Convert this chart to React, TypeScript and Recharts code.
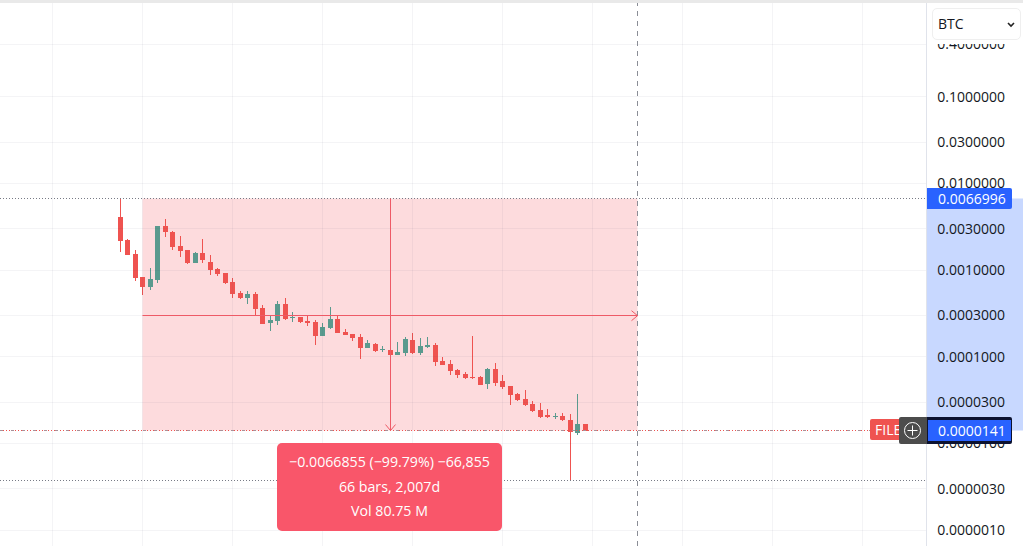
import React from "react";
import { ComposedChart, Bar, XAxis, YAxis, ReferenceArea, ReferenceLine, ReferenceDot } from "recharts";

const opens = [0.00413,0.002224,0.001545,0.000832,0.000643,0.000774,0.003252,0.00275,0.001911,0.001718,0.001217,0.001587,0.001249,0.001037,0.000932,0.000734,0.000548,0.00048,0.000534,0.000368,0.000247,0.000261,0.000409,0.000282,0.00029,0.000261,0.000254,0.000175,0.000217,0.000275,0.000195,0.000185,0.000171,0.000127,0.000141,0.00012,0.000121,0.000106,0.000111,0.000157,0.000111,0.00013,0.000138,0.0000901,0.0000832,0.0000709,0.0000637,0.0000589,0.0000589,0.0000489,0.0000725,0.0000529,0.0000463,0.0000375,0.0000328,0.0000287,0.0000245,0.0000211,0.00002,0.0000206,0.0000188,0.0000133,0.0000169];
const highs = [0.0066996,0.002283,0.001704,0.000832,0.001057,0.003252,0.003917,0.002824,0.002492,0.001718,0.001629,0.002302,0.001493,0.001066,0.000932,0.000816,0.000578,0.000578,0.000563,0.000398,0.000298,0.000443,0.00048,0.000331,0.00029,0.000306,0.000268,0.000247,0.000377,0.000298,0.000211,0.000185,0.000185,0.000157,0.000145,0.000134,0.000121,0.000149,0.000171,0.00019,0.000166,0.000171,0.000145,0.000099,0.0000925,0.0000725,0.0000672,0.000175,0.0000604,0.0000745,0.0000854,0.000062,0.0000463,0.0000385,0.0000417,0.0000311,0.0000295,0.0000252,0.0000227,0.0000227,0.0000216,0.0000375,0.0000169];
const lows = [0.001587,0.001505,0.00074,0.00052,0.000594,0.000715,0.002427,0.001718,0.001427,0.001185,0.001217,0.001217,0.000884,0.000861,0.000696,0.00048,0.000467,0.000409,0.000306,0.000241,0.0002,0.000235,0.000268,0.000254,0.000247,0.000229,0.000138,0.000175,0.000211,0.00019,0.00018,0.000153,0.000095,0.000127,0.000114,0.000114,0.000106,0.000106,0.000103,0.000109,0.000106,0.000127,0.0000789,0.000081,0.000062,0.0000573,0.0000558,0.0000558,0.0000476,0.0000428,0.0000463,0.0000428,0.000028,0.0000311,0.0000272,0.0000233,0.00002,0.00002,0.0000195,0.0000183,0.00000372,0.0000126,0.0000141];
const closes = [0.002182,0.001505,0.000816,0.000643,0.000795,0.003252,0.002771,0.001861,0.001673,0.001217,0.001587,0.001318,0.00101,0.000908,0.000715,0.000534,0.00048,0.000534,0.000358,0.000241,0.000268,0.000409,0.000275,0.00029,0.000254,0.000247,0.000175,0.000223,0.000275,0.00019,0.00018,0.000166,0.000127,0.000145,0.000118,0.000123,0.000106,0.000114,0.000162,0.000111,0.000134,0.000138,0.0000877,0.000081,0.000069,0.000062,0.0000573,0.0000573,0.0000476,0.0000725,0.0000502,0.0000451,0.0000365,0.0000319,0.000028,0.0000239,0.0000206,0.00002,0.0000206,0.0000183,0.0000136,0.0000169,0.0000141];

const priceTicks = [0.4,0.1,0.03,0.01,0.003,0.001,0.0003,0.0001,0.00003,0.00001,0.000003,0.000001];
const gridBars = [-9,3,15,27,39,51,63,75,87,99];
const measureHigh = 0.0066996;
const measureLow = 0.0000141;
const lowMarker = 0.00000372;
const measureStartBar = 3;
const measureEndBar = 69;
const measureMidBar = 36.067;
const measureMidPrice = 0.000298;
const axisEdgeBar = 107.533;
const domainX: [number, number] = [-16, 120.4];
const domainY: [number, number] = [6.57e-7, 1.304];

const RED = "#ef5350";
const GREEN = "#5a9a8e";
const FONT = "'Open Sans', sans-serif";

const table = opens.map((o, i) => ({
  i,
  up: closes[i] > o,
  wick: [lows[i], highs[i]],
  body: [Math.min(o, closes[i]), Math.max(o, closes[i])],
}));

const Wick = (p: any) => (
  <rect x={Math.floor(p.x + p.width / 2 + 0.26)} y={Math.round(p.y)} width={1} height={Math.max(1, Math.round(p.height))} fill={p.payload.up ? GREEN : RED} />
);
const Body = (p: any) => (
  <rect x={Math.floor(p.x + p.width / 2 + 0.26) - 2} y={Math.round(p.y)} width={5} height={Math.max(1, Math.round(p.height))} fill={p.payload.up ? GREEN : RED} />
);

const crisp = (stroke: string, dash?: string) => (p: any) => {
  const a = Math.floor(p.x1) + 0.5, b = Math.floor(p.x2) + 0.5;
  const c = Math.floor(p.y1) + 0.5, d = Math.floor(p.y2) + 0.5;
  return <line x1={p.x1 === p.x2 ? a : p.x1} x2={p.x1 === p.x2 ? b : p.x2} y1={p.y1 === p.y2 ? c : p.y1} y2={p.y1 === p.y2 ? d : p.y2} stroke={stroke} strokeWidth={1} strokeDasharray={dash} />;
};

const hSeg = (y: number, a: number, b: number) => [{ x: a, y }, { x: b, y }] as any;
const vSeg = (x: number, a: number, b: number) => [{ x, y: a }, { x, y: b }] as any;

const ArrowRight = (p: any) => (
  <polyline points={`${p.cx - 6},${p.cy - 5} ${p.cx},${p.cy} ${p.cx - 6},${p.cy + 5}`} fill="none" stroke="#ee5a66" strokeWidth={1} />
);
const ArrowDown = (p: any) => (
  <polyline points={`${p.cx - 5},${p.cy - 6} ${p.cx},${p.cy} ${p.cx + 5},${p.cy - 6}`} fill="none" stroke="#ee5a66" strokeWidth={1} />
);

const box = (l: number, t: number, w: number, h: number): React.CSSProperties => ({ position: "absolute", left: l, top: t, width: w, height: h, boxSizing: "border-box" });

export default function App() {
  return (
    <div style={{ position: "relative", width: 1023, height: 546, overflow: "hidden", background: "#fff", fontFamily: FONT }}>
      <style>{"body{margin:0}"}</style>
      <ComposedChart width={1023} height={546} data={table} margin={{ top: 0, right: 0, bottom: 0, left: 0 }}>
        <XAxis xAxisId="w" type="number" dataKey="i" domain={domainX} hide allowDataOverflow />
        <XAxis xAxisId="b" type="number" dataKey="i" domain={domainX} hide allowDataOverflow />
        <YAxis
          yAxisId="p" orientation="right" mirror scale="log" domain={domainY} allowDataOverflow
          ticks={priceTicks} interval={0} tickLine={false} axisLine={false} tickMargin={12}
          tickFormatter={(v: number) => v.toFixed(7)}
          tick={{ fill: "#131722", fontSize: 14, fontFamily: FONT }}
        />
        <ReferenceArea xAxisId="w" yAxisId="p" x1={measureStartBar} x2={measureEndBar} y1={measureLow} y2={measureHigh} fill="#f23645" fillOpacity={0.18} stroke="none" />
        <ReferenceArea xAxisId="w" yAxisId="p" x1={axisEdgeBar} x2={domainX[1]} y1={measureLow} y2={measureHigh} fill="#c8d8ff" fillOpacity={1} stroke="none" />
        {priceTicks.map((t) => (
          <ReferenceLine key={t} xAxisId="w" yAxisId="p" segment={hSeg(t, domainX[0], axisEdgeBar)} shape={crisp("rgba(60,70,110,0.06)")} />
        ))}
        {gridBars.map((b) => (
          <ReferenceLine key={b} xAxisId="w" yAxisId="p" segment={vSeg(b, domainY[0], domainY[1])} shape={crisp("rgba(60,70,110,0.06)")} />
        ))}
        <ReferenceLine xAxisId="w" yAxisId="p" segment={vSeg(axisEdgeBar, domainY[0], domainY[1])} shape={crisp("#e0e3eb")} />
        <Bar xAxisId="w" yAxisId="p" dataKey="wick" barSize={1} shape={Wick} isAnimationActive={false} />
        <Bar xAxisId="b" yAxisId="p" dataKey="body" barSize={5} shape={Body} isAnimationActive={false} />
        <ReferenceLine xAxisId="w" yAxisId="p" segment={hSeg(measureHigh, domainX[0], axisEdgeBar)} shape={crisp("#787b86", "1 2")} />
        <ReferenceLine xAxisId="w" yAxisId="p" segment={hSeg(lowMarker, domainX[0], axisEdgeBar)} shape={crisp("#787b86", "1 2")} />
        <ReferenceLine xAxisId="w" yAxisId="p" segment={hSeg(measureLow, domainX[0], axisEdgeBar)} shape={crisp(RED, "1 2")} />
        <ReferenceLine xAxisId="w" yAxisId="p" segment={hSeg(measureLow, domainX[0], axisEdgeBar)} shape={crisp("#a89098", "3 8")} />
        <ReferenceLine xAxisId="w" yAxisId="p" segment={vSeg(measureEndBar, domainY[0], domainY[1])} shape={crisp("#8a8d96", "5 5")} />
        <ReferenceLine xAxisId="w" yAxisId="p" segment={hSeg(measureMidPrice, measureStartBar, measureEndBar)} shape={crisp("#ee5a66")} />
        <ReferenceLine xAxisId="w" yAxisId="p" segment={vSeg(measureMidBar, measureLow, measureHigh)} shape={crisp("#ee5a66")} />
        <ReferenceDot xAxisId="w" yAxisId="p" x={measureEndBar} y={measureMidPrice} shape={ArrowRight} />
        <ReferenceDot xAxisId="w" yAxisId="p" x={measureMidBar} y={measureLow} shape={ArrowDown} />
      </ComposedChart>

      <div style={{ ...box(0, 0, 1023, 3), background: "#e9e9e9" }} />

      <div style={{ ...box(927, 3, 96, 41), background: "#fff" }} />
      <div style={{ ...box(932, 8, 89, 32), background: "#fff", border: "1px solid #efefef", borderRadius: 5, fontSize: 14, color: "#131722", lineHeight: "30px", paddingLeft: 5 }}>
        BTC
        <svg style={{ position: "absolute", left: 74, top: 12 }} width="10" height="8"><polyline points="1,2 4,5 7,2" fill="none" stroke="#222" strokeWidth="1.6" /></svg>
      </div>

      <div style={{ ...box(927, 188, 85, 21), background: "#2962ff", borderRadius: "0 2px 2px 0", color: "#fff", fontSize: 14, lineHeight: "21px", paddingLeft: 11, fontWeight: 500 }}>0.0066996</div>

      <div style={{ ...box(870, 419, 36, 21), background: RED, borderRadius: 2, color: "#fff", fontSize: 14, lineHeight: "21px", paddingLeft: 5, fontWeight: 500, overflow: "hidden", whiteSpace: "nowrap" }}>FILE</div>
      <div style={{ ...box(899, 417, 28, 27), background: "#4c4c4c", borderRadius: "2px 0 0 2px" }}>
        <svg width="28" height="27" style={{ display: "block" }}>
          <circle cx="13.5" cy="13.5" r="8" fill="none" stroke="#fff" strokeWidth="1" />
          <path d="M13.5 8.5v10M8.5 13.5h10" stroke="#fff" strokeWidth="1" />
        </svg>
      </div>
      <div style={{ ...box(927, 417, 85, 27), background: "#2962ff", border: "solid #0c1230", borderWidth: "3px 1px", borderRadius: "0 2px 2px 0", color: "#fff", fontSize: 14, lineHeight: "21px", paddingLeft: 10, fontWeight: 500 }}>0.0000141</div>

      <div style={{ ...box(277, 443, 225, 88), background: "#f9566a", borderRadius: 5, color: "#fff", fontSize: 14.2, textAlign: "center", paddingTop: 7, lineHeight: "24.5px" }}>
        <div>−0.0066855 (−99.79%) −66,855</div>
        <div>66 bars, 2,007d</div>
        <div>Vol 80.75 M</div>
      </div>
    </div>
  );
}
